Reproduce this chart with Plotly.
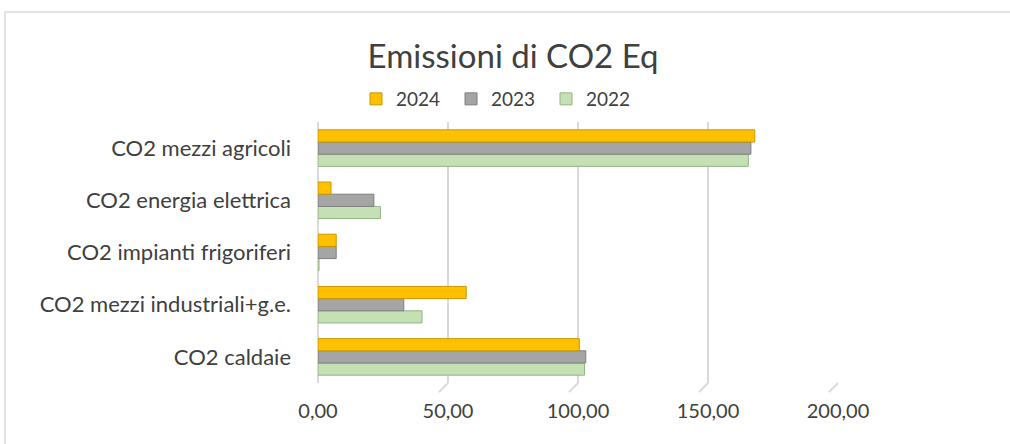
import plotly.graph_objects as go

categories = ["CO2 caldaie", "CO2 mezzi industriali+g.e.", "CO2 impianti frigoriferi",
              "CO2 energia elettrica", "CO2 mezzi agricoli"]
years = ["2022", "2023", "2024"]
v2022 = [102.5, 40.0, 0.4, 24.0, 165.5]
v2023 = [103.0, 33.0, 7.0, 21.5, 166.5]
v2024 = [100.5, 57.0, 7.0, 5.0, 168.0]
values = {"2022": v2022, "2023": v2023, "2024": v2024}
colors = {"2024": "#FFC000", "2023": "#A5A5A5", "2022": "#C5E0B4"}
edges = {"2024": "#C99700", "2023": "#7F7F7F", "2022": "#93B584"}
ranks = {"2024": 1, "2023": 2, "2022": 3}
xticks = [0, 50, 100, 150, 200]

fig = go.Figure()
for y in years:
    fig.add_trace(go.Bar(
        y=categories, x=values[y], name=y, orientation="h",
        marker=dict(color=colors[y], line=dict(color=edges[y], width=1)),
        legendrank=ranks[y],
    ))

font = "Lato, Open Sans, sans-serif"
shapes = [dict(type="rect", xref="paper", yref="paper",
               x0=(5 - 318) / 520, x1=1.6, y0=-0.5, y1=(383 - 12) / 261,
               line=dict(color="#D9D9D9", width=1.5), fillcolor="rgba(0,0,0,0)",
               layer="below")]
for t in xticks:
    shapes.append(dict(type="line", xref="x", yref="paper",
                       x0=t, x1=t - 3.5, y0=0, y1=-0.035,
                       line=dict(color="#D9D9D9", width=2)))

fig.update_layout(
    width=1010, height=444,
    margin=dict(l=318, r=172, t=122, b=61),
    paper_bgcolor="white", plot_bgcolor="white",
    barmode="group", bargap=0.3, bargroupgap=0,
    separators=", ",
    title=dict(text="Emissioni di CO2 Eq", x=0.508, y=1 - 56 / 444,
               xanchor="center", yanchor="middle",
               font=dict(family=font, size=33, color="#404040")),
    legend=dict(orientation="h", x=(356 - 318) / 520, y=(383 - 99) / 261,
                xanchor="left", yanchor="middle",
                font=dict(family=font, size=19, color="#404040"),
                entrywidth=50, entrywidthmode="pixels",
                itemwidth=30, tracegroupgap=0, bgcolor="rgba(0,0,0,0)"),
    xaxis=dict(range=[0, 200], tickvals=xticks, tickformat=".2f",
               showgrid=True, gridcolor="#D9D9D9", gridwidth=2,
               zeroline=True, zerolinecolor="#D9D9D9", zerolinewidth=2,
               showline=False, ticks="", ticklabelstandoff=14,
               tickfont=dict(family=font, size=20, color="#404040")),
    yaxis=dict(categoryorder="array", categoryarray=categories,
               showgrid=False, showline=False, ticks="", ticklabelstandoff=26,
               tickfont=dict(family=font, size=22, color="#404040")),
    shapes=shapes,
)
fig.write_html("out.html", config={"displayModeBar": False},
               post_script="document.body.style.margin='0';")
